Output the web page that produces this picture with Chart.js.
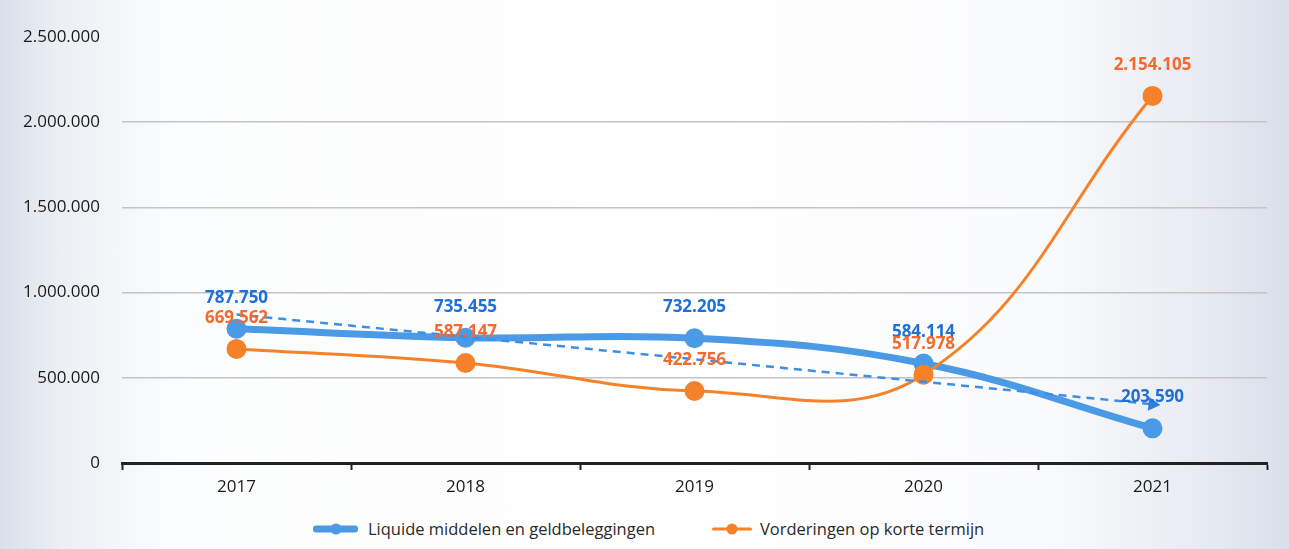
<!DOCTYPE html>
<html>
<head>
<meta charset="utf-8">
<script src="https://cdn.jsdelivr.net/npm/chart.js@4.4.1/dist/chart.umd.min.js"></script>
<style>
  html, body { margin: 0; padding: 0; }
  body {
    width: 1289px; height: 549px; overflow: hidden;
    font-family: 'Open Sans', sans-serif;
    background: linear-gradient(90deg, #dadfe9 0, #eceff4 60px, #fbfcfd 170px, #ffffff 700px, #f9fafc 1050px, #e9ecf3 1190px, #dadfea 1289px);
  }
  #wrap { position: relative; width: 1289px; height: 510px; }
  #legend { position: relative; height: 39px; font-size: 16.5px; color: #2a2a2a; }
  .item { position: absolute; top: 7px; display: flex; align-items: center; white-space: nowrap; }
  .mark { position: relative; width: 45px; height: 20px; margin-right: 10px; }
  .mark .ln { position: absolute; left: 0; right: 0; top: 50%; transform: translateY(-50%); border-radius: 3px; }
  .mark .dt { position: absolute; left: 50%; top: 50%; width: 11px; height: 11px; border-radius: 50%; transform: translate(-50%, -50%); }
</style>
</head>
<body>
<div id="wrap"><canvas id="chart" width="1289" height="510"></canvas></div>
<div id="legend">
  <div class="item" style="left:313px"><span class="mark"><span class="ln" style="height:7px;background:#4a9ae6"></span><span class="dt" style="background:#4a9ae6"></span></span>Liquide middelen en geldbeleggingen</div>
  <div class="item" style="left:712px"><span class="mark" style="width:40px;margin-right:8px"><span class="ln" style="height:3px;background:#f5822a"></span><span class="dt" style="background:#f5822a"></span></span>Vorderingen op korte termijn</div>
</div>
<script>
const years = ['2017', '2018', '2019', '2020', '2021'];
const liquide = [787750, 735455, 732205, 584114, 203590];
const vorderingen = [669562, 587147, 422756, 517978, 2154105];
// trendline of the blue series
const trendLiquide = [872000, 740000, 609000, 477000, 345000];
const yTicks = [0, 500000, 1000000, 1500000, 2000000, 2500000];

const fmt = v => String(Math.round(v)).replace(/\B(?=(\d{3})+(?!\d))/g, '.');

const valueLabels = {
  id: 'valueLabels',
  afterDatasetsDraw(chart) {
    const ctx = chart.ctx;
    chart.data.datasets.forEach((ds, i) => {
      if (!ds.labelColor) return;
      const meta = chart.getDatasetMeta(i);
      ctx.save();
      ctx.font = 'bold 17px "Open Sans"';
      ctx.fillStyle = ds.labelColor;
      ctx.textAlign = 'center';
      ctx.textBaseline = 'middle';
      meta.data.forEach((pt, j) => ctx.fillText(fmt(ds.data[j]), pt.x, pt.y - 31));
      ctx.restore();
    });
  },
};

new Chart(document.getElementById('chart'), {
  type: 'line',
  data: {
    labels: years,
    datasets: [
      {
        label: 'Liquide middelen en geldbeleggingen',
        data: liquide,
        borderColor: '#4a9ae6',
        backgroundColor: '#4a9ae6',
        borderWidth: 7,
        tension: 0.4,
        pointRadius: 10,
        pointBorderWidth: 0,
        labelColor: '#1f6fd6',
        order: 3,
      },
      {
        label: 'Vorderingen op korte termijn',
        data: vorderingen,
        borderColor: '#f5822a',
        backgroundColor: '#f5822a',
        borderWidth: 3,
        tension: 0.4,
        pointRadius: 10,
        pointBorderWidth: 0,
        labelColor: '#f26a2e',
        order: 2,
      },
      {
        label: 'Trend',
        data: trendLiquide,
        borderColor: '#3d8ee6',
        backgroundColor: '#2f7fe0',
        borderWidth: 2.5,
        borderDash: [8, 6],
        tension: 0,
        pointStyle: 'triangle',
        pointRadius: [0, 0, 0, 0, 8],
        rotation: 96,
        pointBorderWidth: 0,
        order: 1,
      },
    ],
  },
  options: {
    responsive: false,
    animation: false,
    layout: { padding: { top: 37, right: 22, left: 0, bottom: 0 } },
    plugins: { legend: { display: false }, tooltip: { enabled: false } },
    scales: {
      x: {
        offset: true,
        grid: { offset: true, drawOnChartArea: false, drawTicks: true, tickLength: 7, tickColor: '#222', tickWidth: 2 },
        border: { color: '#222', width: 3 },
        ticks: { color: '#1a1a1a', font: { size: 17, family: 'Open Sans' }, padding: 7 },
        afterFit: s => { s.height = 47; },
      },
      y: {
        min: 0, max: 2500000,
        afterBuildTicks: s => { s.ticks = yTicks.map(v => ({ value: v })); },
        ticks: { color: '#1a1a1a', font: { size: 17, family: 'Open Sans' }, padding: 22, callback: v => fmt(v) },
        grid: { color: c => c.tick && c.tick.value === 2500000 ? 'rgba(0,0,0,0)' : '#c4c4c4', lineWidth: 1.5, drawTicks: false },
        border: { display: false },
        afterFit: s => { s.width = 122; },
      },
    },
  },
  plugins: [valueLabels],
});
</script>
</body>
</html>
